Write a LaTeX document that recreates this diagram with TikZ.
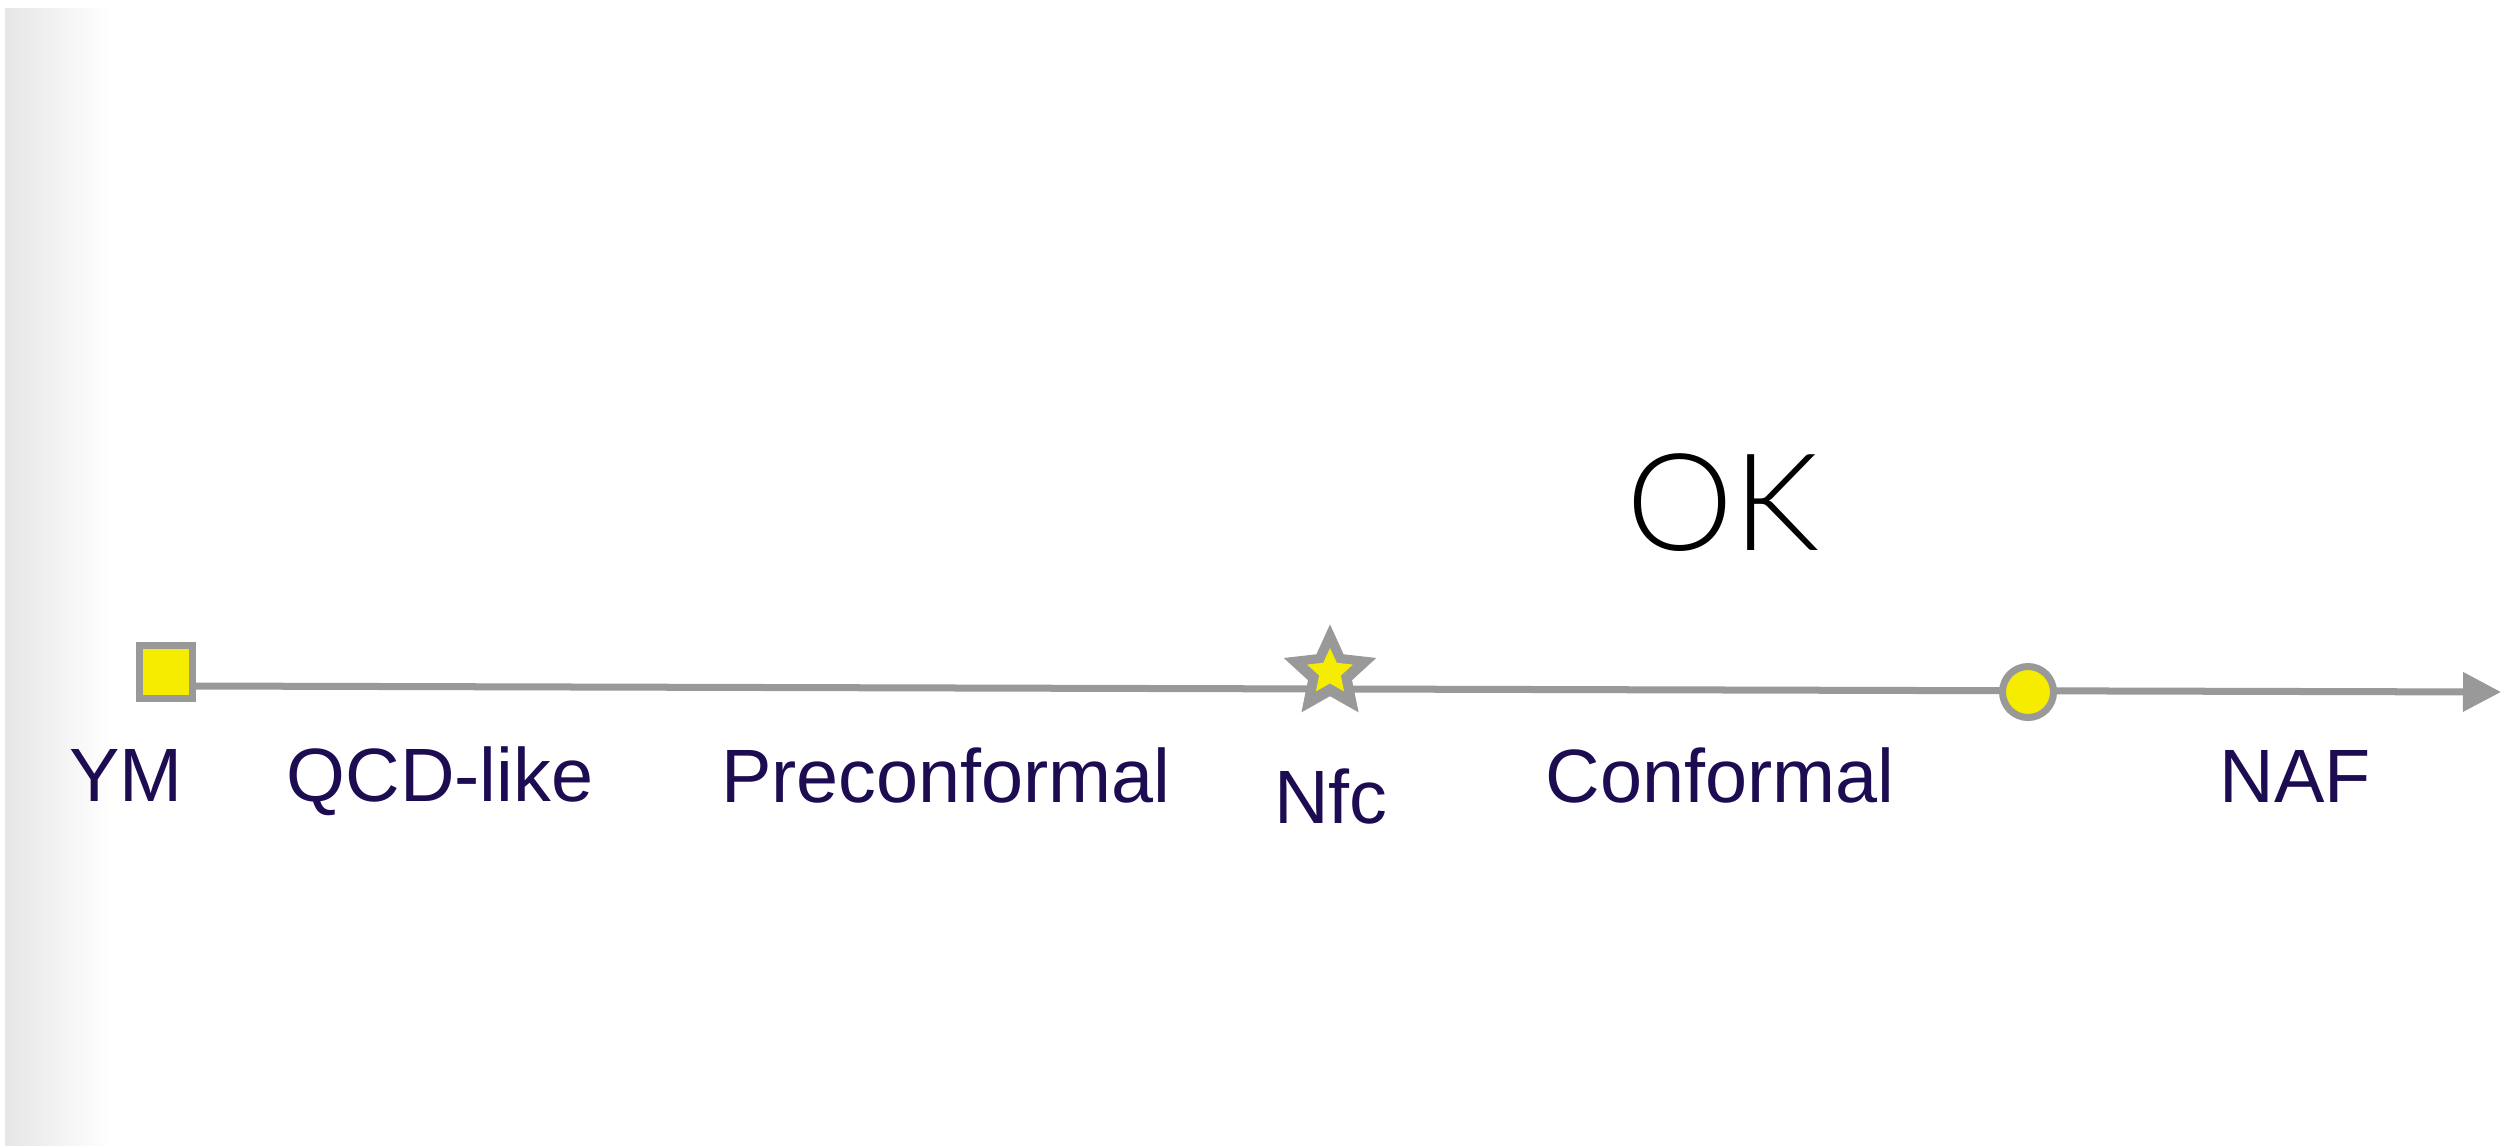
\documentclass[tikz,border=0pt]{standalone}
\usepackage{fontspec}
\setmainfont{Liberation Sans}
\newfontfamily\okfont{Lato}[UprightFont={* Light}]
\usetikzlibrary{arrows.meta,shapes.geometric,backgrounds}

\definecolor{axisgray}{HTML}{999999}
\definecolor{markyellow}{HTML}{F6EC00}
\definecolor{labelnavy}{HTML}{1D0C52}
\definecolor{panelgray}{HTML}{E6E6E6}

\tikzset{
  axisline/.style={draw=axisgray, line width=0.07cm,
    -{Triangle[length=0.38cm,width=0.38cm]}},
  squaremark/.style={rectangle, draw=axisgray, fill=markyellow,
    line width=0.07cm, minimum size=0.53cm, inner sep=0pt},
  circlemark/.style={circle, draw=axisgray, fill=markyellow,
    line width=0.07cm, minimum size=0.51cm, inner sep=0pt},
  starshape/.style={star, star points=5, star point ratio=2.1,
    inner sep=0pt, draw=none},
  phase/.style={anchor=base, text=labelnavy, inner sep=0pt,
    font=\fontsize{21.5pt}{25pt}\selectfont},
}

\begin{document}
\begin{tikzpicture}[x=0.01cm, y=-0.01cm]
  \useasboundingbox (0,0) rectangle (2515,1147);

  % markers on the axis
  \node[squaremark] (ym) at (166,672) {};
  \node[starshape, fill=axisgray, minimum size=0.972cm] (nfc) at (1330,673) {};
  \node[starshape, fill=markyellow, minimum size=0.48cm] (nfcin) at (1330,672) {};
  \node[circlemark] (naf) at (2028,692) {};
  \coordinate (tip) at (2501,692);

  % page, side panel and the axis behind the markers
  \begin{scope}[on background layer]
    \fill[white] (0,0) rectangle (2515,1147);
    \shade[left color=panelgray, right color=white] (5,8) rectangle (110,1145);
    \draw[axisline] (ym.east) ++(0,14) -- (tip);
  \end{scope}

  % phase labels
  \node[phase] (lym)  at (126,801)  {YM};
  \node[phase] (lqcd) at (440,801)  {QCD-like};
  \node[phase] (lpre) at (946,802)  {Preconformal};
  \node[phase] (lnfc) at (1331,823) {Nfc};
  \node[phase] (lcon) at (1720,802) {Conformal};
  \node[phase] (lnaf) at (2295,802) {NAF};

  % title above the conformal window
  \node[anchor=base, inner sep=0pt, text=black,
        font=\okfont\fontsize{38.5pt}{45pt}\selectfont] (ok) at (1723,550) {OK};
\end{tikzpicture}
\end{document}
